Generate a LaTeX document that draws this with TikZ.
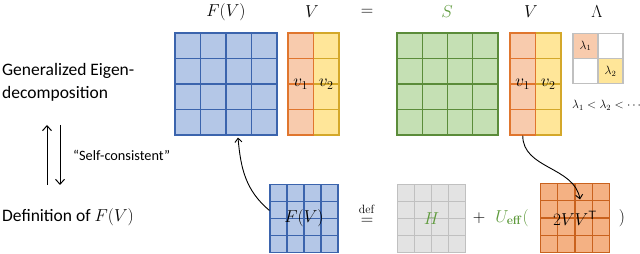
\documentclass[tikz,border=0pt]{standalone}
\usepackage{amsmath}
\usepackage[no-math]{fontspec}
\setmainfont{Carlito}
\usetikzlibrary{arrows.meta,calc}
\definecolor{blueF}{HTML}{B4C7E7}
\definecolor{blueD}{HTML}{3B64AD}
\definecolor{orangeF}{HTML}{F8CBAD}
\definecolor{orangeD}{HTML}{E0762E}
\definecolor{yellowF}{HTML}{FFE699}
\definecolor{yellowD}{HTML}{D4A82A}
\definecolor{greenF}{HTML}{C5E0B4}
\definecolor{greenD}{HTML}{5B8C3A}
\definecolor{grayF}{HTML}{E3E3E3}
\definecolor{grayD}{HTML}{C0C0C0}
\definecolor{deepF}{HTML}{F4B183}
\definecolor{deepD}{HTML}{C9621E}
\definecolor{labgreen}{HTML}{5E9A3C}
\tikzset{
  mat/.style n args={4}{fill=#3, draw=#4, line width=1.1pt, inner sep=0pt,
    path picture={
      \foreach \i in {1,...,#1}
        \draw[#4, line width=1.1pt]
          ($(path picture bounding box.south west)!\i/#1!(path picture bounding box.south east)$) --
          ($(path picture bounding box.north west)!\i/#1!(path picture bounding box.north east)$);
      \foreach \j in {1,...,#2}
        \draw[#4, line width=1.1pt]
          ($(path picture bounding box.south west)!\j/#2!(path picture bounding box.north west)$) --
          ($(path picture bounding box.south east)!\j/#2!(path picture bounding box.north east)$);
    }},
  lamcell/.style={draw=grayD, line width=1.1pt, fill=#1, minimum size=25pt, inner sep=0pt,
    font=\fontsize{12}{14}\selectfont},
  toplbl/.style={font=\fontsize{17}{20}\selectfont},
  sidetxt/.style={font=\fontsize{17.5}{23}\selectfont, align=left, anchor=west, inner sep=0pt},
  link/.style={-{Straight Barb[length=4pt,width=7pt]}, line width=0.9pt},
  bigarrow/.style={-{Straight Barb[length=5pt,width=9pt]}, line width=1pt},
}

\begin{document}
\begin{tikzpicture}[x=1pt,y=1pt]
  \useasboundingbox (0,0) rectangle (640,254);

  %% ---- left side texts ----
  \node[sidetxt] (eig) at (2,172) {Generalized Eigen-\\decomposition};
  \node[sidetxt] (defn) at (2,37) {Definition of $F(V)$};
  \coordinate (upS) at (47,69);
  \coordinate (upE) at (47,129);
  \coordinate (dnS) at (60,129);
  \coordinate (dnE) at (60,69);
  \draw[bigarrow] (upS) -- (upE);
  \draw[bigarrow] (dnS) -- (dnE);
  \node[font=\fontsize{14.3}{16}\selectfont, anchor=west, inner sep=0pt] (selfc) at (73,99) {“Self-consistent”};

  %% ---- top row: F(V) V = S V Lambda ----
  \node[mat={4}{4}{blueF}{blueD}, minimum width=102pt, minimum height=102pt] (Ftop) at (226,170) {};
  \node[mat={1}{4}{yellowF}{yellowD}, minimum width=25.5pt, minimum height=102pt, toplbl] (Vtb) at (326.25,170) {$v_2$};
  \node[mat={1}{4}{orangeF}{orangeD}, minimum width=25.5pt, minimum height=102pt, toplbl] (Vta) at (300.75,170) {$v_1$};

  \node[mat={4}{4}{greenF}{greenD}, minimum width=101pt, minimum height=102pt] (S) at (447.5,170) {};
  \node[mat={1}{4}{yellowF}{yellowD}, minimum width=25.5pt, minimum height=102pt, toplbl] (Vrb) at (548.25,170) {$v_2$};
  \node[mat={1}{4}{orangeF}{orangeD}, minimum width=25.5pt, minimum height=102pt, toplbl] (Vra) at (522.75,170) {$v_1$};

  \node[lamcell=white] (L12) at (610.5,208.25) {};
  \node[lamcell=white] (L21) at (585.5,182.75) {};
  \node[lamcell=orangeF] (L11) at (585.5,208.25) {$\lambda_1$};
  \node[lamcell=yellowF] (L22) at (610.5,182.75) {$\lambda_2$};
  \node[font=\fontsize{12}{14}\selectfont, anchor=west, inner sep=0pt] (order) at (572,149) {$\lambda_1<\lambda_2<\cdots$};

  \node[toplbl] (tF) at (226,242) {$F(V)$};
  \node[toplbl] (tV) at (312,242) {$V$};
  \node[toplbl] (teq) at (367,242) {$=$};
  \node[toplbl, text=labgreen] (tS) at (447,242) {$S$};
  \node[toplbl] (tV2) at (531,242) {$V$};
  \node[toplbl] (tL) at (597,242) {$\Lambda$};

  %% ---- bottom row: F(V) def= H + U_eff(2VV^T) ----
  \node[mat={4}{4}{blueF}{blueD}, minimum size=68pt, toplbl] (Fbot) at (304,35.5) {$F(V)$};
  \node[toplbl, inner sep=0pt] (deq) at (367,40) {$\overset{\mathrm{def}\rule[-2pt]{0pt}{0pt}}{=}$};
  \node[mat={4}{4}{grayF}{grayD}, minimum size=68pt, toplbl, text=labgreen] (H) at (431.5,35.5) {$H$};
  \node[toplbl] (plus) at (479,36) {$+$};
  \node[toplbl, text=labgreen] (Ueff) at (512,36) {$U_{\mathbf{eff}}($};
  \node[mat={4}{4}{deepF}{deepD}, minimum size=69pt, toplbl] (Obot) at (575,36) {$2VV^{\mathsf{T}}$};
  \node[toplbl] (rpar) at (622,36) {$)$};

  %% ---- curved links ----
  \draw[link] ($(Fbot.west)+(0,8)$) to[out=140, in=-85] ($(Ftop.south)+(12,-2)$);
  \draw[link] (Vra.south) to[out=-90, in=100] ($(Obot.north)+(5,-16.5)$);

\end{tikzpicture}
\end{document}
